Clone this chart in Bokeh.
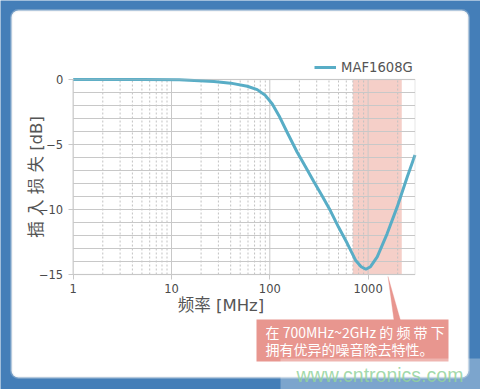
import math
from bokeh.plotting import figure
from bokeh.models import (FixedTicker, BoxAnnotation, PolyAnnotation, Label, Legend, LegendItem,
                          ColumnDataSource, Range1d)
from bokeh.embed import file_html
from bokeh.resources import INLINE

# ---- data ----
freq_mhz = [1, 5, 12, 27, 40, 59, 74.5, 90, 106, 124, 150, 190, 213, 240, 280, 340, 414,
            500, 613, 745, 850, 950, 1058, 1238, 1564, 1977, 2500, 3000]
loss_db = [0, 0, -0.02, -0.15, -0.28, -0.52, -0.78, -1.22, -1.88, -2.78, -4.06, -5.6, -6.25,
           -6.95, -7.85, -8.95, -10.1, -11.35, -12.6, -13.9, -14.4, -14.6, -14.4, -13.65,
           -11.85, -9.8, -7.5, -5.8]
series_name = "MAF1608G"
band_start, band_end = 700, 2200
x_min, x_max = 1, 3000
y_min, y_max = -15, 0
x_major = [1, 10, 100, 1000]
x_minor = [2, 3, 4, 5, 6, 7, 8, 9, 20, 30, 40, 50, 60, 70, 80, 90,
           200, 300, 400, 500, 600, 700, 800, 900, 2000]
y_major = [0, -5, -10, -15]
y_minor = list(range(-14, 0))
x_label = "频率 [MHz]"
y_label = "插 入 损 失 [dB]"
note_lines = ["在 700MHz~2GHz 的 频 带 下", "拥有优异的噪音除去特性。"]
watermark = "www.cntronics.com"

BLUE = "#447eb8"
LINE = "#58adc6"
GRID = "#c8c8c8"
TXT = "#555555"
NOTE = "#e8968f"
JP = "Noto Sans CJK JP"
MIX = "DejaVu Sans, Noto Sans CJK JP"

W, H = 480, 389
# plot-area pixel box inside the canvas
PL, PR, PT, PB = 72.7, 414.5, 79, 274

# ranges chosen so that the frame covers the whole canvas and the plot box sits at PL..PR, PT..PB
dec = (PR - PL) / (math.log10(x_max) - math.log10(x_min))
xr = Range1d(10 ** (math.log10(x_min) - PL / dec), 10 ** (math.log10(x_max) + (W - PR) / dec))
dbpx = (PB - PT) / (y_max - y_min)
yr = Range1d(y_min - (H - PB) / dbpx, y_max + PT / dbpx)

p = figure(width=W, height=H, x_axis_type="log", x_range=xr, y_range=yr,
           output_backend="svg", toolbar_location=None, min_border=0)
p.background_fill_color = BLUE
p.border_fill_color = BLUE
p.outline_line_color = None
p.grid.visible = False

# white card
p.add_layout(BoxAnnotation(left=11, right=468, top=10, bottom=377, left_units="canvas",
                           right_units="canvas", top_units="canvas", bottom_units="canvas",
                           fill_color="white", fill_alpha=1, line_color="#dde1e5", line_width=3,
                           border_radius=7, level="image"))
# plot box
p.add_layout(BoxAnnotation(left=x_min, right=x_max, top=y_max, bottom=y_min, fill_color="white",
                           fill_alpha=1, line_alpha=0, level="image"))
# band
p.add_layout(BoxAnnotation(left=band_start, right=band_end, top=y_max, bottom=y_min,
                           fill_color="#f5cfc8", fill_alpha=1, line_alpha=0, level="underlay"))

# grid lines limited to the plot box
p.segment(x0=x_minor, x1=x_minor, y0=[y_min] * len(x_minor), y1=[y_max] * len(x_minor),
          line_color="#c2c2c2", line_width=1, line_dash="2 2")
p.segment(x0=x_major, x1=x_major, y0=[y_min] * len(x_major), y1=[y_max] * len(x_major),
          line_color=GRID, line_width=1)
p.segment(x0=[x_min] * len(y_minor + y_major), x1=[x_max] * len(y_minor + y_major),
          y0=y_minor + y_major, y1=y_minor + y_major, line_color=GRID, line_width=1)
p.add_layout(BoxAnnotation(left=x_min, right=x_max, top=y_max, bottom=y_min, fill_alpha=0,
                           line_color=GRID, line_width=1.5, level="glyph"))

# axes fixed at the plot box edges
p.xaxis.fixed_location = y_min
p.yaxis.fixed_location = x_min
p.xaxis.bounds = (x_min, 1000)
p.yaxis.bounds = (y_min, y_max)
p.xaxis.ticker = FixedTicker(ticks=x_major, minor_ticks=[])
p.yaxis.ticker = FixedTicker(ticks=y_major, minor_ticks=[])
p.xaxis.major_label_overrides = {1: "1", 10: "10", 100: "100", 1000: "1000"}
for ax in (p.xaxis[0], p.yaxis[0]):
    ax.axis_line_color = None
    ax.major_tick_line_color = GRID
    ax.major_tick_out = 5
    ax.major_tick_in = 0
    ax.minor_tick_out = 0
    ax.minor_tick_in = 0
    ax.major_label_text_color = "#4a4a4a"
    ax.major_label_text_font = "DejaVu Sans"
    ax.major_label_text_font_size = "11.5px"
    ax.axis_label_text_font = MIX
    ax.axis_label_text_font_size = "16.5px"
    ax.axis_label_text_font_style = "normal"
    ax.axis_label_text_color = TXT
p.xaxis.axis_label = x_label
p.yaxis.axis_label = y_label
p.xaxis.major_label_standoff = 4
p.xaxis.axis_label_standoff = 0
p.yaxis.major_label_standoff = 5
p.yaxis.axis_label_standoff = -10

src = ColumnDataSource(dict(f=freq_mhz, l=loss_db))
r = p.line("f", "l", source=src, line_color=LINE, line_width=3)

legend = Legend(items=[LegendItem(label=series_name, renderers=[r])], location=(314, H - 75),
                background_fill_alpha=0, border_line_alpha=0, padding=0, margin=0,
                label_text_font="DejaVu Sans", label_text_font_size="13.2px",
                label_text_color=TXT, glyph_width=22, glyph_height=16, label_height=16,
                label_standoff=5)
p.add_layout(legend)

# callout
p.add_layout(PolyAnnotation(xs=[387.5, 393.5, 400], ys=[276, 320, 320], xs_units="canvas",
                            ys_units="canvas", fill_color=NOTE, fill_alpha=1, line_color=NOTE,
                            line_width=1))
p.add_layout(BoxAnnotation(left=256, right=448, top=319, bottom=361, left_units="canvas",
                           right_units="canvas", top_units="canvas", bottom_units="canvas",
                           fill_color=NOTE, fill_alpha=1, line_alpha=0))
for i, t in enumerate(note_lines):
    p.add_layout(Label(x=265, y=331 + i * 17, x_units="canvas", y_units="canvas", text=t,
                       text_font=JP, text_font_size="14px", text_color="white",
                       text_baseline="middle", text_align="left"))

# watermark
p.add_layout(BoxAnnotation(left=280, right=480, top=358, bottom=389, left_units="canvas",
                           right_units="canvas", top_units="canvas", bottom_units="canvas",
                           fill_color="white", fill_alpha=0.3, line_alpha=0))
p.add_layout(Label(x=296, y=374, x_units="canvas", y_units="canvas", text=watermark,
                   text_font="Liberation Sans", text_font_size="19.5px", text_color="#93d39c",
                   text_alpha=0.85, text_baseline="middle"))

open("out.html", "w").write(file_html(p, INLINE))
